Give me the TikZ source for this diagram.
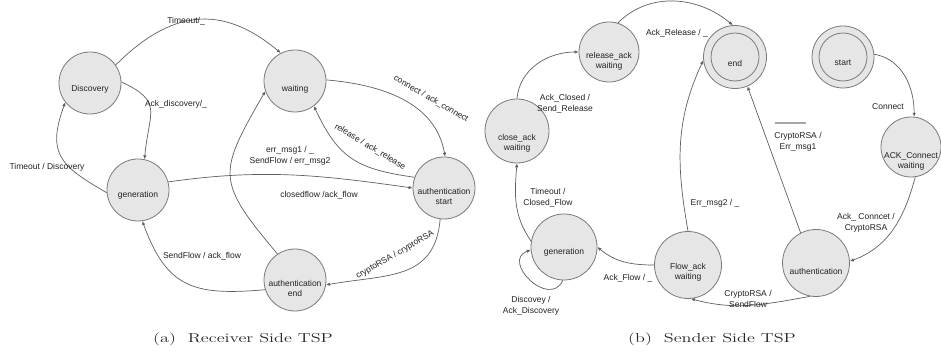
\documentclass[tikz,border=0pt]{standalone}
\usepackage{fontspec}
\usetikzlibrary{arrows.meta}
\newfontfamily\lsans{Liberation Sans}
\definecolor{stfill}{HTML}{E6E6E6}
\definecolor{stline}{HTML}{7A7A7A}
\definecolor{edline}{HTML}{606060}
\definecolor{txt}{HTML}{222222}
\tikzset{
  st/.style={circle, draw=stline, fill=stfill, line width=0.8pt, inner sep=0pt},
  nl/.style={font=\lsans\fontsize{8.5}{10}\selectfont, text=txt, align=center, inner sep=0pt},
  el/.style={font=\lsans\fontsize{8.5}{10.5}\selectfont, text=txt, align=center, inner sep=0pt},
  ed/.style={draw=edline, line width=0.7pt, -{Latex[length=4pt,width=3.4pt]}},
  captxt/.style={font=\fontsize{13}{15}\selectfont, text=black!85, xscale=1.4, transform shape, inner sep=0pt}
}
\begin{document}
\begin{tikzpicture}[x=1pt,y=1pt]
\path[use as bounding box, fill=white] (0,0) rectangle (941,-352);

% ---------- receiver side ----------
\node[st, minimum size=62pt, label={[nl,yshift=-6pt]center:Discovery}] (D) at (90,-83) {};
\node[st, minimum size=62pt, label={[nl,yshift=-5pt]center:generation}] (G) at (138,-190) {};
\node[st, minimum size=62pt, label={[nl,yshift=-8pt]center:waiting}] (W) at (295,-81) {};
\node[st, minimum size=62pt, label={[nl,yshift=-8pt]center:{authentication\\start}}] (AS) at (444,-188) {};
\node[st, minimum size=62pt, label={[nl,yshift=-8pt]center:{authentication\\end}}] (AE) at (295,-280) {};

\draw[ed] (D.35) to[out=45,in=140,looseness=1.2] (W.117);
\draw[ed] (D.2) to[out=-25,in=85,looseness=1.5] (G.78);
\draw[ed] (G.185) to[out=150,in=250,looseness=1.4] (D.218);
\draw[ed] (G.15) to[out=8,in=172] (AS.180);
\draw[ed] (AE.124) to[out=130,in=240,looseness=1.5] (W.199);
\draw[ed] (W.2) to[out=-5,in=100] (AS.88);
\draw[ed] (AS.160) to[out=172,in=-65,looseness=1.2] (W.-53);
\draw[ed] (AS.-97) to[out=-95,in=10,looseness=1.2] (AE.-9);
\draw[ed] (AE.198) to[out=185,in=-70,looseness=1.3] (G.-82);

\node[el] (lA1) at (186,-21) {Timeout/\_};
\node[el] (lA2) at (176,-104) {Ack\_discovery/\_};
\node[el] (lA3) at (47,-167) {Timeout / Discovery};
\node[el] (lA4) at (319,-195) {closedflow /ack\_flow};
\node[el] (lA5) at (290,-156) {err\_msg1 / \_\\SendFlow / err\_msg2};
\node[el, rotate=-30] (lA6) at (431,-99) {connect / ack\_connect};
\node[el, rotate=-31] (lA7) at (370,-147) {release / ack\_release};
\node[el, rotate=30] (lA8) at (395,-255) {cryptoRSA / cryptoRSA};
\node[el] (lA9) at (202,-256) {SendFlow / ack\_flow};

\node[captxt] (capA) at (243,-339) {(a)\ \ Receiver Side TSP};

% ---------- sender side ----------
\node[st, minimum size=60pt, label={[nl,yshift=-9pt]center:{release\_ack\\waiting}}] (RA) at (609,-52) {};
\node[st, minimum size=64pt, label={[nl,yshift=-12pt]center:{close\_ack\\waiting}}] (CA) at (517,-131) {};
\node[st, minimum size=63pt, label={[nl,yshift=-6pt]center:end}] (EN) at (735,-57) {};
\draw[stline, line width=0.8pt] (EN.center) circle[radius=24];
\node[st, minimum size=62pt, label={[nl,yshift=-6pt]center:start}] (ST) at (843,-57) {};
\draw[stline, line width=0.8pt] (ST.center) circle[radius=24];
\node[st, minimum size=60pt, label={[nl,yshift=-14pt]center:{ACK\_Connect\\waiting}}] (AC) at (911,-147) {};
\node[st, minimum size=66pt, label={[nl,yshift=-5pt]center:generation}] (GR) at (564,-247) {};
\node[st, minimum size=67pt, label={[nl,yshift=-7pt]center:{Flow\_ack\\waiting}}] (FA) at (688,-265) {};
\node[st, minimum size=67pt, label={[nl,yshift=-8pt]center:authentication}] (AU) at (816,-263) {};

\draw[ed] (RA.73) to[out=45,in=140] (EN.94);
\draw[ed] (CA.90) to[out=85,in=180] (RA.180);
\draw[ed] (GR.170) to[out=125,in=-95] (CA.-90);
\draw[ed] (GR.-92) .. controls +(-115:32) and +(200:32) .. (GR.185);
\draw[ed] (FA.180) to[out=180,in=-40] (GR.0);
\draw[ed] (AU.-100) to[out=190,in=-15] (FA.-85);
\draw[ed] (FA.90) to[out=100,in=245] (EN.186);
\draw[ed] (AU.117) -- (EN.-67);
\draw[ed] (ST.5) to[out=-10,in=90] (AC.84);
\draw[ed] (AC.-82) to[out=-105,in=20] (AU.3);

\draw[black!35, line width=1.3pt] (775,-123) -- (806,-123);

\node[el] (lB1) at (677,-33) {Ack\_Release / \_};
\node[el] (lB2) at (565,-104) {Ack\_Closed /\\Send\_Release};
\node[el] (lB3) at (548,-198) {Timeout /\\Closed\_Flow};
\node[el] (lB4) at (531,-306) {Discovey /\\Ack\_Discovery};
\node[el] (lB5) at (628,-278) {Ack\_Flow / \_};
\node[el] (lB6) at (715,-203) {Err\_msg2 / \_};
\node[el] (lB7) at (798,-142) {CryptoRSA /\\Err\_msg1};
\node[el] (lB8) at (888,-107) {Connect};
\node[el] (lB9) at (866,-223) {Ack\_ Conncet /\\CryptoRSA};
\node[el] (lB10) at (748,-299) {CryptoRSA /\\SendFlow};

\node[captxt] (capB) at (712,-339) {(b)\ \ Sender Side TSP};
\end{tikzpicture}
\end{document}
